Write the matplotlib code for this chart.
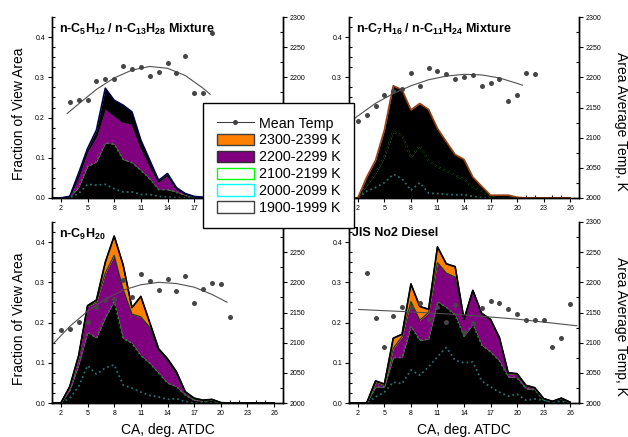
import matplotlib
matplotlib.use('Agg')
import matplotlib.pyplot as plt
from matplotlib.patches import Patch
from matplotlib.lines import Line2D
from matplotlib.ticker import MultipleLocator, FormatStrFormatter

plt.rcParams['font.family'] = ['Liberation Sans', 'DejaVu Sans']
plt.rcParams['mathtext.fontset'] = 'custom'
plt.rcParams['mathtext.rm'] = 'Liberation Sans'
plt.rcParams['mathtext.bf'] = 'Liberation Sans:bold'

# crank angle positions of the area fractions
ca = list(range(1, 27))

# n-C5H12 / n-C13H28 mixture (cumulative fractions, bottom -> top)
tl_teal = [0, 0, 0, 0.011, 0.034, 0.032, 0.034, 0.023, 0.015, 0.015, 0.009, 0.009, 0.004,
           0.002, 0.001, 0, 0, 0, 0, 0, 0, 0, 0, 0, 0, 0]
tl_green = [0, 0, 0.002, 0.027, 0.079, 0.090, 0.137, 0.134, 0.096, 0.088, 0.069, 0.048, 0.021,
            0.021, 0.015, 0.007, 0.002, 0, 0, 0, 0, 0, 0, 0, 0, 0]
tl_purple = [0, 0, 0.003, 0.052, 0.115, 0.152, 0.223, 0.206, 0.189, 0.185, 0.127, 0.081, 0.040,
             0.056, 0.023, 0.010, 0.003, 0.001, 0, 0, 0, 0, 0, 0, 0, 0]
tl_total = [0, 0, 0.004, 0.062, 0.123, 0.169, 0.273, 0.243, 0.231, 0.214, 0.144, 0.094, 0.044,
            0.061, 0.026, 0.011, 0.004, 0.002, 0, 0, 0, 0, 0, 0, 0, 0]
tl_temp_x = list(range(3, 20))
tl_temp = [2159, 2162, 2162, 2194, 2198, 2197, 2219, 2214, 2217, 2202, 2209, 2223, 2207, 2235,
           2174, 2174, 2273]
tl_fit_x = [2.7, 4, 6, 8, 10, 12, 14, 16, 18, 18.8]
tl_fit = [2140, 2156, 2180, 2199, 2212, 2218, 2215, 2203, 2182, 2172]

# n-C7H16 / n-C11H24 mixture
tr_teal = [0, 0, 0.017, 0.026, 0.038, 0.059, 0.048, 0.019, 0.038, 0.012, 0.011, 0.009, 0.008,
           0.008, 0.004, 0.001, 0, 0, 0, 0, 0, 0, 0, 0, 0, 0]
tr_green = [0, 0, 0.032, 0.061, 0.102, 0.165, 0.156, 0.101, 0.130, 0.092, 0.077, 0.067, 0.057,
            0.046, 0.027, 0.017, 0.002, 0, 0, 0, 0, 0, 0, 0, 0, 0]
tr_total = [0, 0, 0.052, 0.094, 0.169, 0.279, 0.269, 0.219, 0.235, 0.220, 0.173, 0.140, 0.108,
            0.096, 0.052, 0.029, 0.007, 0.007, 0.007, 0.002, 0, 0, 0, 0, 0, 0]
tr_temp_x = list(range(2, 23))
tr_temp = [2127, 2137, 2152, 2171, 2177, 2181, 2208, 2185, 2215, 2211, 2205, 2197, 2201, 2204,
           2185, 2190, 2198, 2161, 2170, 2207, 2206]
tr_fit_x = [1, 2, 4, 6, 8, 10, 12, 14, 16, 18, 20, 20.6]
tr_fit = [2125, 2136, 2157, 2173, 2186, 2196, 2202, 2205, 2204, 2199, 2190, 2187]

# n-C9H20
bl_teal = [0, 0, 0.012, 0.041, 0.093, 0.072, 0.087, 0.095, 0.045, 0.037, 0.027, 0.019, 0.015,
           0.009, 0.011, 0.003, 0, 0, 0, 0, 0, 0, 0, 0, 0, 0]
bl_green = [0, 0, 0.032, 0.095, 0.176, 0.162, 0.213, 0.253, 0.161, 0.149, 0.118, 0.099, 0.075,
            0.050, 0.041, 0.020, 0.007, 0.005, 0.007, 0, 0, 0, 0, 0, 0, 0]
bl_purple = [0, 0, 0.039, 0.114, 0.240, 0.250, 0.323, 0.367, 0.283, 0.221, 0.214, 0.188, 0.130,
             0.105, 0.073, 0.026, 0.010, 0.006, 0.008, 0.001, 0, 0, 0, 0, 0, 0]
bl_orange = [0, 0, 0.041, 0.118, 0.242, 0.256, 0.350, 0.415, 0.344, 0.237, 0.265, 0.200, 0.135,
             0.110, 0.078, 0.028, 0.012, 0.007, 0.009, 0.001, 0, 0, 0, 0, 0, 0]
bl_temp_x = list(range(2, 22))
bl_temp = [2121, 2122, 2135, 2135, 2159, 2170, 2173, 2204, 2176, 2214, 2203, 2187, 2206, 2185,
           2210, 2166, 2189, 2199, 2197, 2142]
bl_fit_x = [1.2, 3, 5, 7, 9, 11, 13, 15, 17, 19, 20.7]
bl_fit = [2099, 2127, 2152, 2172, 2187, 2196, 2200, 2198, 2192, 2180, 2167]

# JIS No2 diesel
br_teal = [0, 0, 0, 0.015, 0.027, 0.052, 0.048, 0.082, 0.069, 0.090, 0.115, 0.138, 0.106,
           0.100, 0.102, 0.055, 0.040, 0.027, 0.017, 0.022, 0.007, 0.010, 0.007, 0.002, 0.004, 0]
br_green = [0, 0, 0, 0.040, 0.040, 0.113, 0.113, 0.191, 0.156, 0.159, 0.252, 0.238, 0.219,
            0.166, 0.196, 0.144, 0.127, 0.105, 0.065, 0.063, 0.036, 0.033, 0.007, 0.004, 0.011, 0]
br_purple = [0, 0, 0, 0.050, 0.042, 0.136, 0.165, 0.252, 0.206, 0.225, 0.349, 0.323, 0.313,
             0.208, 0.280, 0.219, 0.206, 0.161, 0.072, 0.072, 0.042, 0.037, 0.011, 0.004, 0.012, 0.002]
br_orange = [0, 0, 0, 0.055, 0.047, 0.161, 0.171, 0.296, 0.240, 0.233, 0.388, 0.346, 0.339,
             0.208, 0.280, 0.223, 0.208, 0.163, 0.075, 0.073, 0.044, 0.038, 0.011, 0.004, 0.012, 0.002]
br_temp_x = list(range(3, 27))
br_temp = [2215, 2141, 2093, 2144, 2159, 2159, 2165, 2139, 2159, 2135, 2162, 2117, 2133, 2157,
           2169, 2165, 2155, 2147, 2137, 2137, 2137, 2093, 2107, 2164]
br_fit_x = [2.07, 8, 14, 20, 26.75]
br_fit = [2155, 2151, 2146, 2139, 2128]

titles = [r'n-C$_{\mathbf{5}}$H$_{\mathbf{12}}$ / n-C$_{\mathbf{13}}$H$_{\mathbf{28}}$ Mixture',
          r'n-C$_{\mathbf{7}}$H$_{\mathbf{16}}$ / n-C$_{\mathbf{11}}$H$_{\mathbf{24}}$ Mixture',
          r'n-C$_{\mathbf{9}}$H$_{\mathbf{20}}$',
          'JIS No2 Diesel']

ORANGE = '#ff8000'
PURPLE = '#800080'


def style_axes(ax, ax2):
    ax.set_xlim(1, 27)
    ax.set_ylim(0, 0.45)
    ax2.set_ylim(2000, 2300)
    ax.set_xticks(range(2, 27, 3))
    ax.xaxis.set_minor_locator(MultipleLocator(1))
    ax.set_yticks([0, 0.1, 0.2, 0.3, 0.4])
    ax.yaxis.set_minor_locator(MultipleLocator(0.025))
    ax.yaxis.set_major_formatter(FormatStrFormatter('%.1f'))
    ax2.set_yticks(range(2000, 2301, 50))
    ax2.yaxis.set_minor_locator(MultipleLocator(25))
    for a in (ax, ax2):
        a.tick_params(which='major', direction='out', length=3, width=0.8,
                      labelsize=5, pad=2, colors='black')
        a.tick_params(which='minor', direction='in', length=2, width=0.8)
        a.spines['top'].set_visible(False)
        for s in ('left', 'right', 'bottom'):
            a.spines[s].set_linewidth(1.0)


def draw_panel(ax, green, teal, purple, orange, total, edge):
    ax.fill_between(ca, 0, green, color='black', lw=0)
    ax.fill_between(ca, green, purple, color=PURPLE, lw=0)
    ax.fill_between(ca, purple, orange, color=ORANGE, lw=0)
    ax.fill_between(ca, orange, total, color='black', lw=0)
    ax.plot(ca, purple, color='#153f15', lw=0.9)
    ax.plot(ca, teal, ':', color='#2b7070', lw=1.3)
    ax.plot(ca, green, ':', color='#2f7f2f', lw=1.3)
    ax.plot(ca, orange, color='black', lw=0.9)
    ax.plot(ca, total, color=edge, lw=1.2)


fig = plt.figure(figsize=(6.28, 4.37), dpi=100)
W, H = 628, 437
boxes = [(52, 17, 231, 181), (349, 17, 230, 181), (52, 222, 231, 181), (349, 222, 230, 181)]
axes = []
for (x0, y0, w, h) in boxes:
    ax = fig.add_axes([x0 / W, 1 - (y0 + h) / H, w / W, h / H])
    ax2 = ax.twinx()
    style_axes(ax, ax2)
    axes.append((ax, ax2))

panels = [
    (tl_green, tl_teal, tl_purple, tl_purple, tl_total, '#000048', tl_temp_x, tl_temp, tl_fit_x, tl_fit),
    (tr_green, tr_teal, tr_green, tr_green, tr_total, '#9a4010', tr_temp_x, tr_temp, tr_fit_x, tr_fit),
    (bl_green, bl_teal, bl_purple, bl_orange, bl_orange, 'black', bl_temp_x, bl_temp, bl_fit_x, bl_fit),
    (br_green, br_teal, br_purple, br_orange, br_orange, 'black', br_temp_x, br_temp, br_fit_x, br_fit),
]

for i, ((ax, ax2), p) in enumerate(zip(axes, panels)):
    green, teal, purple, orange, total, edge, tx, ty, fx, fy = p
    draw_panel(ax, green, teal, purple, orange, total, edge)
    ax2.plot(fx, fy, color='#505050', lw=0.8)
    ax2.plot(tx, ty, 'o', color='#454545', ms=3.6, mec='none')
    ax.text(0.03 if i < 3 else 0.012, 0.975, titles[i], transform=ax.transAxes,
            fontsize=9, fontweight='bold', va='top', ha='left')
    if i % 2 == 0:
        ax.set_ylabel('Fraction of View Area', fontsize=10, va='center')
        ax.yaxis.set_label_coords(-0.145, 0.464)
    else:
        ax2.set_ylabel('Area Average Temp, K', fontsize=10, rotation=-90, va='center')
        ax2.yaxis.set_label_coords(1.183, 0.425)
    if i >= 2:
        ax.set_xlabel('CA, deg. ATDC', fontsize=10, va='center')
        ax.xaxis.set_label_coords(0.5, -0.15)

handles = [
    Line2D([0], [0], color='#404040', lw=0.8, marker='o', ms=3.6, mec='none', label='Mean Temp'),
    Patch(facecolor=ORANGE, edgecolor='#404040', label='2300-2399 K'),
    Patch(facecolor=PURPLE, edgecolor='#303030', label='2200-2299 K'),
    Patch(facecolor='white', edgecolor='#00ff00', label='2100-2199 K'),
    Patch(facecolor='white', edgecolor='#00ffff', label='2000-2099 K'),
    Patch(facecolor='white', edgecolor='#404040', label='1900-1999 K'),
]
leg = fig.legend(handles=handles, loc='upper left', bbox_to_anchor=(203 / W, 1 - 103 / H),
                 fontsize=10.3, frameon=True, fancybox=False, framealpha=1, edgecolor='black',
                 borderpad=0.95, handlelength=2.6, handleheight=0.85, handletextpad=0.35,
                 labelspacing=0.2, borderaxespad=0)
leg.get_frame().set_linewidth(1.0)

fig.savefig('out.png', dpi=100)
